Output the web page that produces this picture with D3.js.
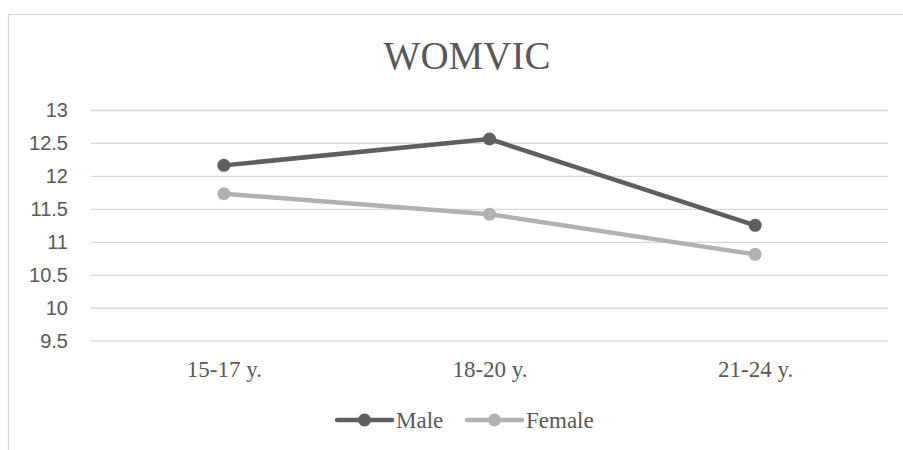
<!DOCTYPE html>
<html>
<head>
<meta charset="utf-8">
<script src="https://cdn.jsdelivr.net/npm/d3@7"></script>
<style>
html,body{margin:0;padding:0;background:#fff;}
svg{display:block;}
</style>
</head>
<body>
<svg id="chart" width="903" height="450"></svg>
<script>
const title = "WOMVIC";
const categories = ["15-17 y.", "18-20 y.", "21-24 y."];
const maleValues = [12.16, 12.56, 11.25];
const femaleValues = [11.73, 11.42, 10.81];
const yTicks = [9.5, 10, 10.5, 11, 11.5, 12, 12.5, 13];
const seriesNames = ["Male", "Female"];
const seriesColors = ["#5f5f5f", "#b1b1b1"];

const series = [
  {name: seriesNames[0], values: maleValues, color: seriesColors[0]},
  {name: seriesNames[1], values: femaleValues, color: seriesColors[1]}
];

const svg = d3.select("#chart");
const plotLeft = 91, plotRight = 888, plotTop = 110, plotBottom = 340.7;

// chart border
svg.append("rect").attr("x", 8.5).attr("y", 14.5).attr("width", 1000).attr("height", 1000)
  .attr("fill", "none").attr("stroke", "#d9d9d9").attr("stroke-width", 1.3);

const x = d3.scalePoint().domain(categories).range([plotLeft, plotRight]).padding(0.5);
const y = d3.scaleLinear().domain([9.5, 13]).range([plotBottom, plotTop]);

// title
svg.append("text").attr("x", 467).attr("y", 69).attr("text-anchor", "middle")
  .attr("font-family", "Liberation Serif, Times New Roman, serif").attr("font-size", 39)
  .attr("fill", "#595959").text(title);

// gridlines
const grid = svg.append("g").attr("transform", `translate(${plotLeft},0)`)
  .call(d3.axisLeft(y).tickValues(yTicks).tickSize(-(plotRight - plotLeft)).tickFormat(""));
grid.select(".domain").remove();
grid.selectAll(".tick line").attr("stroke", "#d9d9d9").attr("stroke-width", 1.3);

// y labels
const yAxis = svg.append("g").attr("transform", `translate(68,0)`)
  .call(d3.axisLeft(y).tickValues(yTicks).tickSize(0).tickPadding(0).tickFormat(d => String(d)));
yAxis.select(".domain").remove();
yAxis.selectAll("text").attr("font-family", "Liberation Sans, Arial, sans-serif")
  .attr("font-size", 20).attr("fill", "#595959");

// x labels
const xAxis = svg.append("g").attr("transform", `translate(0,${plotBottom})`)
  .call(d3.axisBottom(x).tickSize(0));
xAxis.select(".domain").remove();
xAxis.selectAll("text").attr("y", 377 - plotBottom).attr("dy", null)
  .attr("font-family", "Liberation Serif, Times New Roman, serif")
  .attr("font-size", 23).attr("fill", "#595959");

// lines
const line = d3.line().x((d, i) => x(categories[i])).y(d => y(d));
series.forEach(s => {
  svg.append("path").datum(s.values).attr("d", line).attr("fill", "none")
    .attr("stroke", s.color).attr("stroke-width", 4.5).attr("stroke-linejoin", "round").attr("stroke-linecap", "round");
  svg.selectAll(null).data(s.values).enter().append("circle")
    .attr("cx", (d, i) => x(categories[i])).attr("cy", d => y(d)).attr("r", 6.5)
    .attr("fill", s.color);
});

// legend
const legendItems = [{x0: 337, x1: 392, tx: 396}, {x0: 467, x1: 522, tx: 526}];
series.forEach((s, i) => {
  const L = legendItems[i];
  const g = svg.append("g");
  g.append("line").attr("x1", L.x0).attr("x2", L.x1).attr("y1", 420).attr("y2", 420)
    .attr("stroke", s.color).attr("stroke-width", 4.5).attr("stroke-linecap", "round");
  g.append("circle").attr("cx", (L.x0 + L.x1) / 2).attr("cy", 420).attr("r", 6.5).attr("fill", s.color);
  g.append("text").attr("x", L.tx).attr("y", 428).attr("font-family", "Liberation Serif, Times New Roman, serif")
    .attr("font-size", 23).attr("fill", "#595959").text(s.name);
});
</script>
</body>
</html>
